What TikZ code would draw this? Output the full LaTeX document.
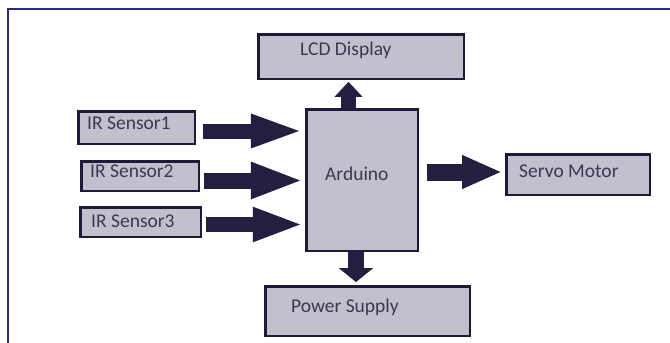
\documentclass[tikz,border=0pt]{standalone}
\usepackage{fontspec}
\setmainfont{Carlito}
\usetikzlibrary{arrows.meta}
\definecolor{boxc}{HTML}{C4BFCC}
\definecolor{bordc}{HTML}{1E1B3A}
\definecolor{arrc}{HTML}{221F40}
\definecolor{txtc}{HTML}{3C3852}
\definecolor{framec}{HTML}{2A2F75}
\begin{document}
\begin{tikzpicture}[x=1pt,y=-1pt,
 blk/.style={draw=bordc, fill=boxc, line width=2.8pt, rectangle, inner sep=0pt, anchor=north west},
 lbl/.style={anchor=base west, inner sep=0pt, text=txtc, font=\fontsize{19.5}{22}\selectfont},
 barrow/.style n args={3}{draw=arrc, line width=#1, -{Triangle[length=#2, width=#3]}}]
\useasboundingbox (0,0) rectangle (670,343);
\fill[white] (0,0) rectangle (670,343);
\draw[framec, line width=1.2pt] (8,343) -- (8,9) -- (670,9);
% boxes
\node[blk, minimum width=205.2pt, minimum height=44.2pt] (lcd) at (257.4,33.4) {};
\node[blk, minimum width=116.2pt, minimum height=32.2pt] (ir1) at (77.4,110.4) {};
\node[blk, minimum width=117.2pt, minimum height=29.2pt] (ir2) at (80.4,160.4) {};
\node[blk, minimum width=120.2pt, minimum height=29.2pt] (ir3) at (79.4,206.4) {};
\node[blk, minimum width=111.2pt, minimum height=141.2pt] (ard) at (305.4,108.4) {};
\node[blk, minimum width=143.2pt, minimum height=40.2pt] (srv) at (505.4,153.4) {};
\node[blk, minimum width=204.2pt, minimum height=49.2pt] (pwr) at (264.4,285.4) {};
% labels
\node[lbl] (tlcd) at (300,55) {LCD Display};
\node[lbl] (t1) at (87,129) {IR Sensor1};
\node[lbl] (t2) at (90,177) {IR Sensor2};
\node[lbl] (t3) at (91,227) {IR Sensor3};
\node[lbl] (tard) at (325,180) {Arduino};
\node[lbl] (tsrv) at (519,177) {Servo Motor};
\node[lbl] (tpwr) at (291,312) {Power Supply};
% block arrows
\draw[barrow={15pt}{53pt}{30pt}, shorten <=6.4pt, shorten >=1.5pt] (ir1.east |- 0,131) -- (ard.west |- 0,131);
\draw[barrow={16pt}{53pt}{33pt}, shorten <=3.4pt, shorten >=1.5pt] (ir2.east |- 0,180.5) -- (ard.west |- 0,180.5);
\draw[barrow={15pt}{51pt}{31pt}, shorten <=3.4pt, shorten >=1.5pt] (ir3.east |- 0,224.5) -- (ard.west |- 0,224.5);
\draw[barrow={17pt}{40pt}{31pt}, shorten <=7.4pt, shorten >=3.4pt] (ard.east |- 0,172) -- (srv.west |- 0,172);
\draw[barrow={15pt}{15pt}{27pt}, shorten >=1.4pt] (ard.north -| 348.5,0) -- (lcd.south -| 348.5,0);
\draw[barrow={16pt}{14pt}{34pt}, shorten >=3.4pt] (ard.south -| 356,0) -- (pwr.north -| 356,0);
\end{tikzpicture}
\end{document}
